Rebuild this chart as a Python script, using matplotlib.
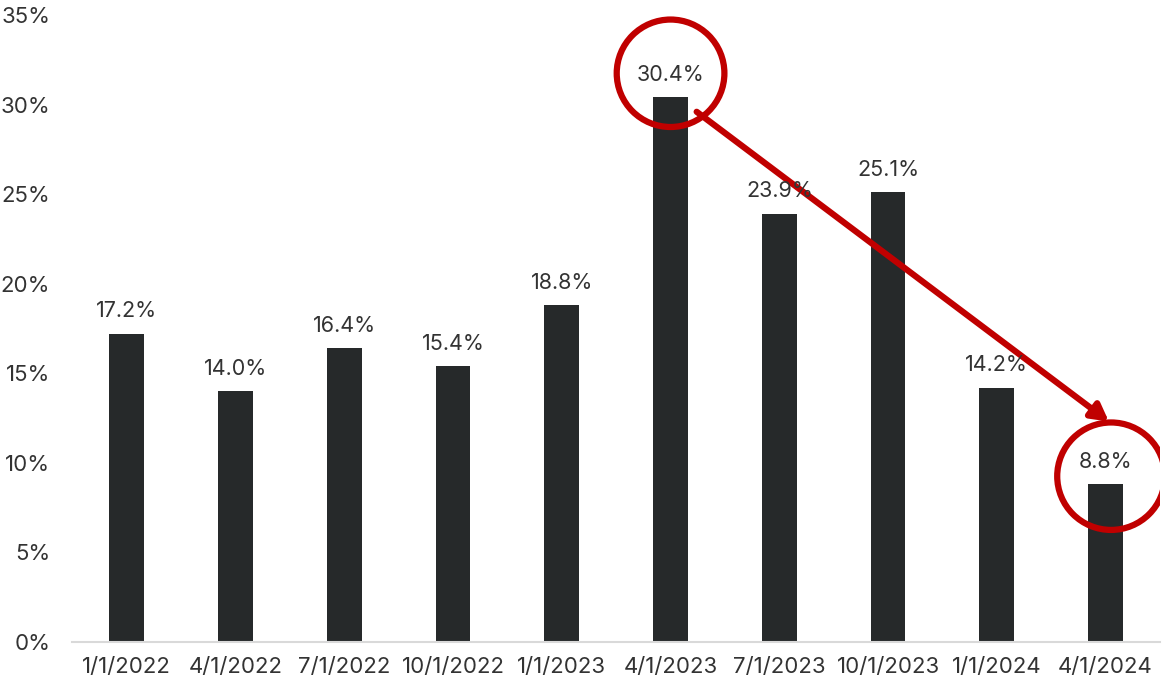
import matplotlib.pyplot as plt
from matplotlib.patches import Ellipse

dates = ['1/1/2022', '4/1/2022', '7/1/2022', '10/1/2022', '1/1/2023',
         '4/1/2023', '7/1/2023', '10/1/2023', '1/1/2024', '4/1/2024']
values = [17.2, 14.0, 16.4, 15.4, 18.8, 30.4, 23.9, 25.1, 14.2, 8.8]
yticks = [0, 5, 10, 15, 20, 25, 30, 35]

plt.rcParams['font.family'] = ['Inter', 'DejaVu Sans']

fig = plt.figure(figsize=(11.67, 6.85), dpi=100)
ax = fig.add_axes([0.062, 0.063, 0.932, 0.915])

x = list(range(len(dates)))
ax.bar(x, values, width=0.32, color='#26292a', zorder=2)

for xi, v in zip(x, values):
    ax.annotate(f'{v:.1f}%', (xi, v), xytext=(0, 9), textcoords='offset points',
                ha='center', va='bottom', fontsize=15.5, color='#333333', zorder=4)

ax.set_xlim(-0.5, len(dates) - 0.5)
ax.set_ylim(0, 35)
ax.set_yticks(yticks)
ax.set_yticklabels([f'{t}%' for t in yticks])
ax.set_xticks(x)
ax.set_xticklabels(dates)
ax.tick_params(axis='both', length=0, labelsize=16, colors='#333333')
ax.tick_params(axis='y', pad=16)
ax.tick_params(axis='x', pad=11)

for s in ['top', 'right', 'left']:
    ax.spines[s].set_visible(False)
ax.spines['bottom'].set_color('#d9d9d9')
ax.spines['bottom'].set_linewidth(1.5)

red = '#c00000'
# highlight circles
ax.add_patch(Ellipse((5.0, 31.75), 0.99, 6.0, fill=False, edgecolor=red, lw=4.5, zorder=3))
ax.add_patch(Ellipse((9.05, 9.25), 0.99, 6.0, fill=False, edgecolor=red, lw=4.5, zorder=3))

# trend arrow
ax.annotate('', xy=(9.03, 12.3), xytext=(5.24, 29.6),
            arrowprops=dict(arrowstyle='-|>,head_length=1.0,head_width=0.55',
                            color=red, lw=4.5, shrinkA=0, shrinkB=0), zorder=3)

fig.savefig('out.png', dpi=100)
